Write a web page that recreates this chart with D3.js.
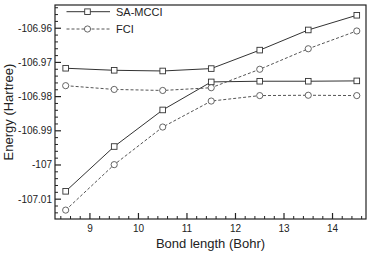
<!DOCTYPE html>
<html><head><meta charset="utf-8">
<script src="https://cdn.jsdelivr.net/npm/d3@7"></script>
<style>body{margin:0;background:#fff}svg{display:block;font-family:"Liberation Sans",Arial,sans-serif}</style>
</head><body><svg id="c" width="374" height="264"></svg>
<script>
const bond = [8.5, 9.5, 10.5, 11.5, 12.5, 13.5, 14.5];
const mcciUpper = [-106.9717, -106.9723, -106.9725, -106.9718, -106.9664, -106.9605, -106.9562];
const mcciLower = [-107.0077, -106.9946, -106.9839, -106.9757, -106.9755, -106.9755, -106.9754];
const fciUpper = [-106.9768, -106.9779, -106.9782, -106.9774, -106.9720, -106.9660, -106.9608];
const fciLower = [-107.0132, -106.9999, -106.9889, -106.9813, -106.9797, -106.9796, -106.9797];
const xTicks = [9, 10, 11, 12, 13, 14];
const yTicks = [-106.96, -106.97, -106.98, -106.99, -107, -107.01];
const legendLabels = ["SA-MCCI", "FCI"];

const svg = d3.select("#c");
const L = 55, R = 366, T = 5, B = 219;
const x = d3.scaleLinear().domain([8.28, 14.69]).range([L, R]);
const y = d3.scaleLinear().domain([-107.0158, -106.9532]).range([B, T]);
const col = "#333";

// frame
svg.append("rect").attr("x", L).attr("y", T).attr("width", R - L).attr("height", B - T)
  .attr("fill", "none").attr("stroke", "#222").attr("stroke-width", 1.2);

// x axis ticks (inward)
const xMinor = d3.range(8.4, 14.7, 0.2).filter(v => Math.abs(v - Math.round(v)) > 0.01);
const gx = svg.append("g");
gx.selectAll(".mj").data(xTicks).join("line")
  .attr("x1", d => x(d)).attr("x2", d => x(d)).attr("y1", B).attr("y2", B - 6)
  .attr("stroke", "#222").attr("stroke-width", 1.2);
gx.selectAll(".mn").data(xMinor).join("line").attr("class", "mn")
  .attr("x1", d => x(d)).attr("x2", d => x(d)).attr("y1", B).attr("y2", B - 3)
  .attr("stroke", "#222").attr("stroke-width", 1);
gx.selectAll("text").data(xTicks).join("text")
  .attr("x", d => x(d)).attr("y", 232).attr("text-anchor", "middle")
  .attr("font-size", 10).attr("fill", "#222").text(d => d3.format("d")(d));

// y axis ticks
const yMinor = d3.range(-107.014, -106.953, 0.002).filter(v => Math.abs(v * 100 - Math.round(v * 100)) > 0.01);
const gy = svg.append("g");
gy.selectAll(".mj").data(yTicks).join("line")
  .attr("x1", L).attr("x2", L + 6).attr("y1", d => y(d)).attr("y2", d => y(d))
  .attr("stroke", "#222").attr("stroke-width", 1.2);
gy.selectAll(".mn").data(yMinor).join("line").attr("class", "mn")
  .attr("x1", L).attr("x2", L + 3).attr("y1", d => y(d)).attr("y2", d => y(d))
  .attr("stroke", "#222").attr("stroke-width", 1);
gy.selectAll("text").data(yTicks).join("text")
  .attr("x", L - 3).attr("y", d => y(d) + 3.5).attr("text-anchor", "end")
  .attr("font-size", 10).attr("fill", "#222").text(d => String(d));

// labels
svg.append("text").attr("x", (L + R) / 2).attr("y", 248).attr("text-anchor", "middle")
  .attr("font-size", 13).attr("fill", "#222").text("Bond length (Bohr)");
svg.append("text").attr("transform", `translate(13,${(T + B) / 2}) rotate(-90)`)
  .attr("text-anchor", "middle").attr("font-size", 13).attr("fill", "#222").text("Energy (Hartree)");

const line = d3.line().x((d, i) => x(bond[i])).y(d => y(d));
function series(vals, dashed, marker) {
  svg.append("path").datum(vals).attr("d", line).attr("fill", "none")
    .attr("stroke", dashed ? "#555" : col).attr("stroke-width", 1)
    .attr("stroke-dasharray", dashed ? "3,2" : null);
  drawMarkers(vals.map((v, i) => [x(bond[i]), y(v)]), marker);
}
function drawMarkers(pts, marker) {
  if (marker === "sq") {
    svg.append("g").selectAll("rect").data(pts).join("rect")
      .attr("x", d => d[0] - 2.8).attr("y", d => d[1] - 2.8).attr("width", 5.6).attr("height", 5.6)
      .attr("fill", "#fff").attr("stroke", col).attr("stroke-width", 0.9);
  } else {
    svg.append("g").selectAll("circle").data(pts).join("circle")
      .attr("cx", d => d[0]).attr("cy", d => d[1]).attr("r", 3.1)
      .attr("fill", "#fff").attr("stroke", "#555").attr("stroke-width", 0.9);
  }
}
series(mcciUpper, false, "sq");
series(mcciLower, false, "sq");
series(fciUpper, true, "ci");
series(fciLower, true, "ci");

// legend
const leg = [[legendLabels[0], false, "sq", 11.7], [legendLabels[1], true, "ci", 29]];
leg.forEach(([lab, dashed, mk, ly]) => {
  svg.append("line").attr("x1", 66.5).attr("x2", 110).attr("y1", ly).attr("y2", ly)
    .attr("stroke", dashed ? "#555" : col).attr("stroke-width", 1)
    .attr("stroke-dasharray", dashed ? "3,2" : null);
  drawMarkers([[87.5, ly]], mk);
  svg.append("text").attr("x", 116).attr("y", ly + 4).attr("font-size", 11).attr("fill", "#222").text(lab);
});
</script></body></html>
